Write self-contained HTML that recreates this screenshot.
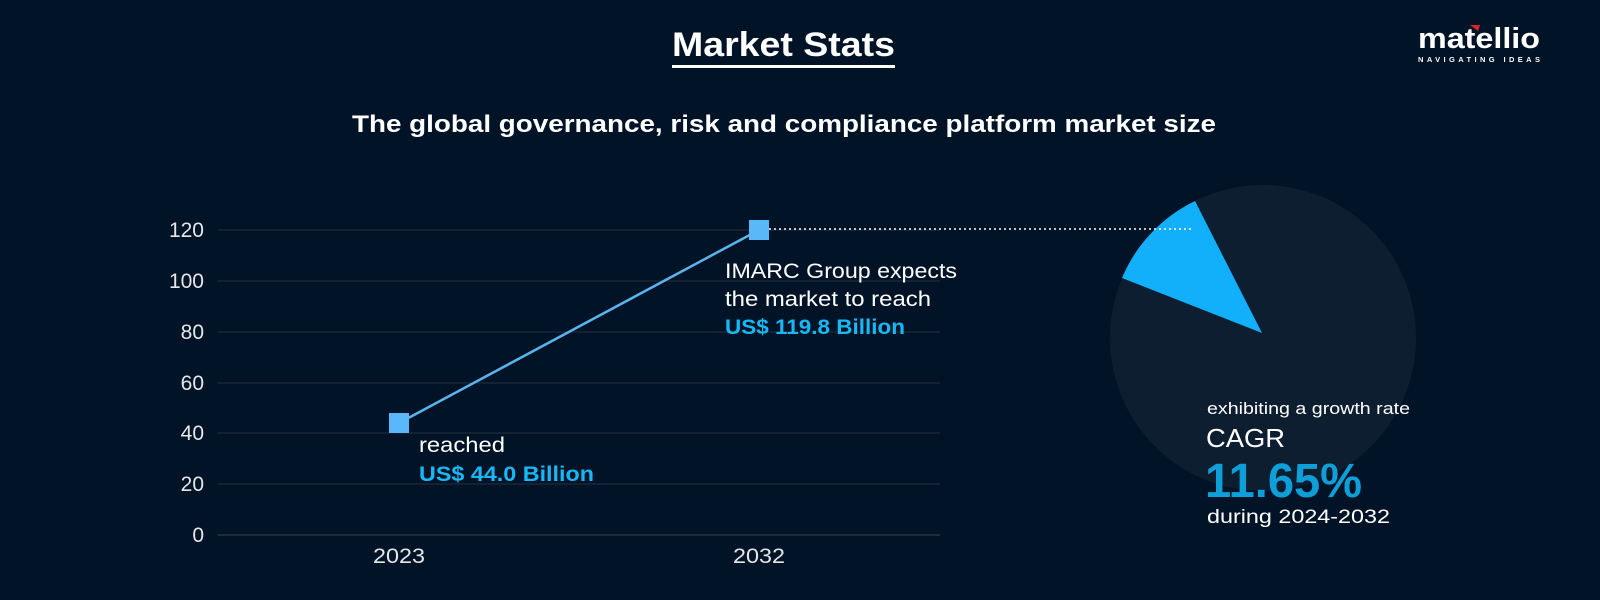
<!DOCTYPE html>
<html><head><meta charset="utf-8"><style>
html,body{margin:0;padding:0;background:#011427;}
svg{display:block}
text{font-family:"Liberation Sans",sans-serif;}
</style></head><body>
<svg width="1600" height="600" viewBox="0 0 1600 600">
<rect width="1600" height="600" fill="#011427"/>
<text x="672" y="56" fill="#fff" font-size="34" font-weight="bold" textLength="223" lengthAdjust="spacingAndGlyphs">Market Stats</text>
<rect x="672" y="65" width="223" height="3" fill="#fff"/>
<text x="352" y="132" fill="#fff" font-size="24" font-weight="bold" textLength="864" lengthAdjust="spacingAndGlyphs">The global governance, risk and compliance platform market size</text>
<text x="1418" y="48" fill="#fff" font-size="29" font-weight="bold" textLength="122" lengthAdjust="spacingAndGlyphs">matellio</text>
<path d="M1470 25 L1480 25 L1478 31 Z" fill="#e0202a"/>
<text x="1418" y="62" fill="#fff" font-size="7.5" font-weight="bold" textLength="122" lengthAdjust="spacing">NAVIGATING IDEAS</text>
<circle cx="1263" cy="338" r="153" fill="#0d1e31"/>
<path d="M1262 333 L1195 201 A150 150 0 0 0 1122 278 Z" fill="#12b0fa"/>
<g stroke="#24303e" stroke-width="1">
<line x1="218" y1="230" x2="940" y2="230"/><line x1="218" y1="281" x2="940" y2="281"/>
<line x1="218" y1="332" x2="940" y2="332"/><line x1="218" y1="383" x2="940" y2="383"/>
<line x1="218" y1="433" x2="940" y2="433"/><line x1="218" y1="484" x2="940" y2="484"/>
<line x1="218" y1="535" x2="940" y2="535" stroke="#3a4450"/>
</g>
<g fill="#e6e6e6" font-size="21" text-anchor="end">
<text x="204" y="237">120</text><text x="204" y="288">100</text><text x="204" y="339">80</text>
<text x="204" y="390">60</text><text x="204" y="440">40</text><text x="204" y="491">20</text><text x="204" y="542">0</text>
</g>
<g fill="#e6e6e6" font-size="21">
<text x="373" y="563" textLength="52" lengthAdjust="spacingAndGlyphs">2023</text><text x="733" y="563" textLength="52" lengthAdjust="spacingAndGlyphs">2032</text>
</g>
<line x1="759" y1="229" x2="1192" y2="229" stroke="#fff" stroke-width="1.5" stroke-dasharray="2 3"/>
<line x1="399" y1="423" x2="759" y2="230" stroke="#5ab4ee" stroke-width="2.5"/>
<rect x="389" y="413" width="20" height="20" fill="#5ab8fa"/>
<rect x="749" y="220" width="20" height="20" fill="#5ab8fa"/>
<g font-size="21">
<text x="725" y="278" fill="#fff" textLength="232" lengthAdjust="spacingAndGlyphs">IMARC Group expects</text>
<text x="725" y="306" fill="#fff" textLength="206" lengthAdjust="spacingAndGlyphs">the market to reach</text>
<text x="725" y="334" fill="#18b8f4" font-weight="bold" textLength="180" lengthAdjust="spacingAndGlyphs">US$ 119.8 Billion</text>
<text x="419" y="452" fill="#fff" textLength="86" lengthAdjust="spacingAndGlyphs">reached</text>
<text x="419" y="481" fill="#18b8f4" font-weight="bold" textLength="175" lengthAdjust="spacingAndGlyphs">US$ 44.0 Billion</text>
</g>
<text x="1207" y="414" fill="#fff" font-size="17" textLength="203" lengthAdjust="spacingAndGlyphs">exhibiting a growth rate</text>
<text x="1206" y="447" fill="#fff" font-size="26" textLength="79" lengthAdjust="spacingAndGlyphs">CAGR</text>
<text x="1205" y="497" fill="#0e9fd8" font-size="48" font-weight="bold" textLength="157" lengthAdjust="spacingAndGlyphs">11.65%</text>
<text x="1207" y="523" fill="#fff" font-size="19" textLength="183" lengthAdjust="spacingAndGlyphs">during 2024-2032</text>
</svg>
</body></html>
